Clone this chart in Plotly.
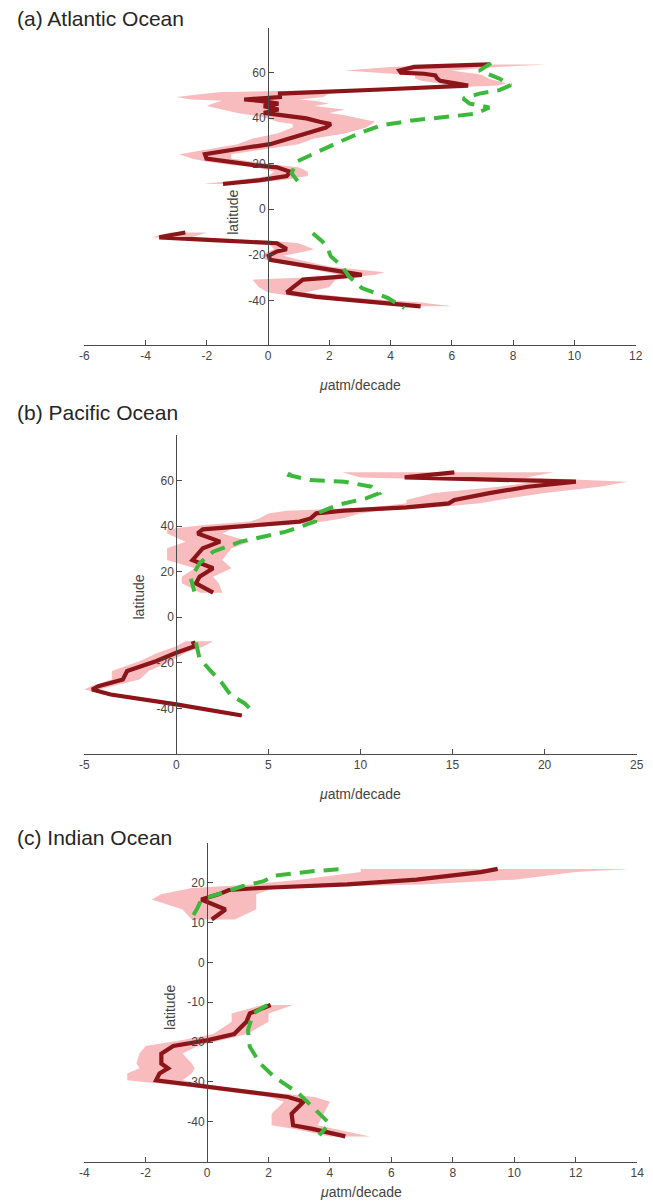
import plotly.graph_objects as go

# ---------------- data ----------------
# (a) Atlantic
a_n_lat = [63.6, 62.5, 60.9, 60.0, 59.5, 58.8, 57.4, 56.4, 55.2, 54.3, 52.6, 51.5, 50.8, 49.3, 48.2, 47.6, 46.4,
           45.3, 43.8, 42.3, 41.3, 39.9, 38.4, 37.4, 35.9, 33.3, 31.1, 28.6, 26.7, 24.2, 22.3, 20.9, 19.4, 18.4,
           16.5, 14.6, 12.8, 11.1]
a_n_mean = [7.22, 4.77, 4.29, 4.34, 5.09, 5.46, 5.52, 5.62, 6.16, 6.53, 3.7, 1.57, 0.39, 0.39, -0.78, -0.25, 0.34,
            -0.14, 0.34, -0.14, 0.39, 1.25, 1.68, 2.05, 1.89, 1.25, 0.72, 0.07, -0.89, -2.06, -2.01, -1.31, -0.46,
            0.29, 0.72, 0.61, -0.25, -1.47]
a_n_low = [6.0, 4.0, 2.5, 3.5, 4.3, 4.8, 4.8, 5.0, 5.6, 5.8, 3.0, -1.5, -2.0, -3.0, -2.5, -1.5, -1.8,
           -2.0, -1.5, -1.0, -0.5, 0.0, 0.3, 0.8, 0.8, 0.3, -0.5, -1.0, -1.8, -2.9, -2.5, -2.0, -1.2, -0.4,
           0.2, 0.0, -1.0, -2.1]
a_n_high = [9.1, 7.5, 6.0, 6.5, 6.8, 7.0, 7.2, 7.5, 7.8, 7.5, 4.5, 2.5, 2.0, 1.8, 1.0, 1.5, 2.0,
            1.5, 2.5, 2.0, 2.5, 3.0, 3.5, 3.4, 3.2, 2.5, 1.5, 1.0, 0.0, -1.2, -1.2, -0.5, 0.3, 1.0,
            1.3, 1.3, 0.5, -0.8]
a_s_lat = [-10.2, -12.3, -13.7, -14.9, -17.5, -18.5, -20.4, -22.2, -25.1, -27.7, -28.8, -29.8, -30.9, -34.2,
           -36.5, -38.5, -40.9, -42.6]
a_s_mean = [-2.7, -3.55, -1.63, 0.29, 0.61, 0.29, 0.02, 0.07, 1.36, 2.64, 3.06, 2.2, 1.14, 0.82, 0.61, 1.57, 3.7,
            4.98]
a_s_low = [-3.2, -3.8, -2.0, 0.0, 0.2, 0.0, -0.2, -0.1, 1.0, 2.0, 2.3, 1.5, -0.5, -0.3, 0.0, 1.0, 3.0, 4.5]
a_s_high = [-2.0, -2.5, 0.0, 1.0, 1.5, 1.2, 0.5, 1.0, 2.0, 3.8, 3.5, 2.8, 2.2, 2.0, 1.2, 2.5, 5.0, 6.0]
a_gn_lat = [64.2, 60.9, 57.4, 54.5, 52.3, 50.8, 48.6, 46.4, 44.7, 42.0, 40.6, 39.1, 36.9, 33.3, 28.2, 23.8, 20.9,
            15.8, 12.1, 10.7]
a_gn_val = [7.28, 6.9, 7.55, 7.92, 7.55, 6.9, 6.37, 6.58, 7.22, 6.8, 5.84, 4.77, 3.7, 2.96, 2.1, 1.36, 0.93,
            0.77, 0.98, 1.2]
a_gs_lat = [-10.5, -14.2, -17.1, -20.7, -25.1, -29.5, -34.6, -39.0, -43.4]
a_gs_val = [1.46, 1.78, 1.94, 2.05, 2.42, 2.64, 3.06, 3.92, 4.45]

# (b) Pacific
b_n_lat = [63.6, 61.4, 59.5, 57.3, 54.5, 51.5, 50.0, 48.2, 46.8, 45.6, 43.4, 42.0, 40.5, 38.6, 36.8, 33.2, 30.3,
           25.1, 21.5, 17.8, 14.9, 10.8]
b_n_mean = [15.1, 12.4, 21.7, 19.1, 17.0, 15.1, 14.8, 12.5, 9.1, 7.6, 7.3, 6.7, 4.4, 1.44, 1.16, 2.38, 1.44,
            0.88, 2.0, 1.26, 1.07, 2.0]
b_n_low = [9.0, 10.0, 19.5, 17.5, 14.0, 12.5, 12.5, 10.5, 6.0, 5.0, 4.5, 4.0, 1.5, -0.5, -0.5, 0.5, -0.5,
           -0.5, 1.0, 0.3, 0.3, 1.3]
b_n_high = [20.5, 19.0, 24.5, 23.0, 20.0, 17.5, 16.5, 14.0, 11.0, 10.0, 9.0, 8.0, 6.0, 3.0, 2.5, 4.0, 3.0,
            2.5, 3.0, 2.0, 2.3, 2.5]
b_s_lat = [-10.5, -12.7, -15.6, -19.3, -23.6, -27.3, -30.2, -31.7, -33.9, -38.2, -43.1]
b_s_mean = [0.89, 1.0, 0.0, -1.11, -2.67, -2.9, -4.23, -4.57, -3.56, 0.0, 3.56]
b_s_low = [0.5, 0.0, -1.0, -2.0, -3.5, -3.5, -4.6, -5.0, -3.8, -0.2, 3.4]
b_s_high = [2.0, 1.5, 0.5, -0.3, -1.5, -2.0, -3.5, -4.2, -3.3, 0.2, 3.8]
b_gn_lat = [63.5, 62.4, 60.2, 59.5, 57.3, 54.4, 52.2, 49.3, 45.6, 42.0, 37.6, 33.2, 28.8, 23.7, 17.1, 11.3]
b_gn_val = [6.2, 6.13, 7.26, 9.14, 10.6, 11.0, 10.3, 8.76, 7.64, 7.54, 5.95, 3.5, 2.0, 1.26, 0.79, 0.98]
b_gs_lat = [-11.1, -18.0, -23.1, -28.9, -34.1, -37.7, -42.1]
b_gs_val = [1.07, 1.26, 1.82, 2.48, 2.95, 3.7, 4.26]

# (c) Indian
c_n_lat = [23.5, 22.7, 20.8, 19.6, 18.7, 18.2, 17.1, 15.8, 13.3, 10.8]
c_n_mean = [9.46, 8.91, 6.82, 4.56, 1.73, 0.71, 0.37, -0.19, 0.6, 0.15]
c_n_low = [5.0, 5.0, 3.0, 1.5, -0.5, -0.8, -1.5, -1.8, -0.8, -0.5]
c_n_high = [13.7, 12.0, 10.0, 7.0, 2.0, 2.0, 1.6, 1.6, 1.6, 0.9]
c_s_lat = [-10.7, -12.8, -14.9, -18.0, -19.5, -21.0, -22.9, -25.4, -26.6, -27.9, -29.6, -31.3, -33.8, -35.0,
           -38.0, -40.9, -41.8, -43.7]
c_s_mean = [2.07, 1.39, 1.28, 0.88, 0.03, -1.1, -1.49, -1.49, -1.27, -1.55, -1.66, 0.03, 2.64, 3.14, 2.75, 2.8,
            3.43, 4.5]
c_s_low = [1.8, 0.8, 0.8, 0.2, -0.8, -2.0, -2.2, -2.3, -2.2, -2.6, -2.6, -0.5, 2.0, 2.5, 2.1, 2.1, 2.8, 4.0]
c_s_high = [2.8, 2.0, 2.0, 1.3, 0.5, -0.3, -0.8, -0.5, -0.4, -0.5, -0.8, 0.5, 3.5, 4.0, 3.8, 3.6, 4.2, 5.3]
c_gn_lat = [23.4, 22.9, 21.8, 20.4, 19.2, 17.5, 15.8, 13.7, 10.8]
c_gn_val = [4.28, 3.43, 2.18, 1.84, 1.17, 0.49, -0.19, -0.31, -0.53]
c_gs_lat = [-10.7, -12.8, -17.0, -21.2, -25.4, -28.7, -32.9, -37.1, -40.5, -43.4]
c_gs_val = [1.96, 1.5, 1.33, 1.39, 1.73, 2.18, 2.98, 3.54, 3.99, 3.65]

titles = ["(a) Atlantic Ocean", "(b) Pacific Ocean", "(c) Indian Ocean"]
x_ranges = [[-6, 12], [-5, 25], [-4, 14]]
x_ticks = [[-6, -4, -2, 0, 2, 4, 6, 8, 10, 12], [-5, 0, 5, 10, 15, 20, 25], [-4, -2, 0, 2, 4, 6, 8, 10, 12, 14]]
y_ranges = [[-59.6, 79.6], [-60, 80], [-50, 30]]
y_ticks = [[-40, -20, 0, 20, 40, 60], [-40, -20, 0, 20, 40, 60], [-40, -30, -20, -10, 0, 10, 20]]
x_label = "<i>μ</i>atm/decade"
y_label = "latitude"

# ---------------- layout geometry (pixels) ----------------
W, H = 653, 1203
boxes = [  # left, right, top, bottom
    (80.7, 642.5, 28, 345),
    (80.7, 643.5, 435, 754),
    (80.7, 644.0, 843, 1161.5),
]
ylab_pos = [(232, 212), (136, 597), (168, 1007)]
xlab_y = [385, 794, 1192]
title_y = [19, 413, 837]

RED = "#8c1519"
PINK = "#f8bcbf"
GREEN = "#3cb93c"
AX = "#4a4a4a"
FONT = "Liberation Sans, Arial, Helvetica, sans-serif"

panels = [
    (a_n_lat, a_n_mean, a_n_low, a_n_high, a_s_lat, a_s_mean, a_s_low, a_s_high, a_gn_lat, a_gn_val, a_gs_lat, a_gs_val),
    (b_n_lat, b_n_mean, b_n_low, b_n_high, b_s_lat, b_s_mean, b_s_low, b_s_high, b_gn_lat, b_gn_val, b_gs_lat, b_gs_val),
    (c_n_lat, c_n_mean, c_n_low, c_n_high, c_s_lat, c_s_mean, c_s_low, c_s_high, c_gn_lat, c_gn_val, c_gs_lat, c_gs_val),
]

fig = go.Figure()
layout = dict(width=W, height=H, margin=dict(l=0, r=0, t=0, b=0), paper_bgcolor="white", plot_bgcolor="white",
              showlegend=False, font=dict(family=FONT, color="#333333"))
annotations = []


def fmt(v):
    return ("-" if v < 0 else "") + str(abs(v))


for i, p in enumerate(panels):
    nl, nm, nlo, nhi, sl, sm, slo, shi, gnl, gnv, gsl, gsv = p
    xa = "x" if i == 0 else f"x{i+1}"
    ya = "y" if i == 0 else f"y{i+1}"
    for lat, lo, hi in ((nl, nlo, nhi), (sl, slo, shi)):
        fig.add_trace(go.Scatter(x=list(lo) + list(hi)[::-1], y=list(lat) + list(lat)[::-1], fill="toself",
                                 fillcolor=PINK, line=dict(width=0), mode="lines", hoverinfo="skip",
                                 xaxis=xa, yaxis=ya))
    for lat, m in ((nl, nm), (sl, sm)):
        fig.add_trace(go.Scatter(x=m, y=lat, mode="lines", line=dict(color=RED, width=4.2),
                                 xaxis=xa, yaxis=ya))
    for lat, v in ((gnl, gnv), (gsl, gsv)):
        fig.add_trace(go.Scatter(x=v, y=lat, mode="lines", line=dict(color=GREEN, width=4, dash="15px,9px"),
                                 xaxis=xa, yaxis=ya))

    l, r, t, b = boxes[i]
    xd = [l / W, r / W]
    yd = [1 - b / H, 1 - t / H]
    xr = x_ranges[i]
    yr = y_ranges[i]
    ypos = xd[0] + (0 - xr[0]) / (xr[1] - xr[0]) * (xd[1] - xd[0])
    tv = list(y_ticks[i]) + [yr[1]]
    tt = [fmt(v) for v in y_ticks[i]] + [""]
    xkey = "xaxis" if i == 0 else f"xaxis{i+1}"
    ykey = "yaxis" if i == 0 else f"yaxis{i+1}"
    layout[xkey] = dict(domain=xd, range=xr, anchor=ya, tickmode="array", tickvals=x_ticks[i],
                        ticktext=[fmt(v) for v in x_ticks[i]], showgrid=False,
                        zeroline=False, showline=True, linecolor=AX, linewidth=1, ticks="inside", ticklen=5,
                        tickcolor=AX, tickfont=dict(size=12, color="#444444", family=FONT))
    layout[ykey] = dict(domain=yd, range=yr, anchor="free", position=ypos,
                        tickmode="array", tickvals=tv, ticktext=tt, showgrid=False, zeroline=False,
                        showline=True, linecolor=AX, linewidth=1, ticks="inside", ticklen=5, tickcolor=AX,
                        tickfont=dict(size=12, color="#444444", family=FONT))
    annotations.append(dict(text=titles[i], x=10 / W, y=1 - title_y[i] / H, xref="paper", yref="paper",
                            xanchor="left", yanchor="middle", showarrow=False,
                            font=dict(size=21, color="#262626", family=FONT)))
    annotations.append(dict(text=y_label, x=ylab_pos[i][0] / W, y=1 - ylab_pos[i][1] / H, xref="paper",
                            yref="paper", xanchor="center", yanchor="middle", textangle=-90, showarrow=False,
                            font=dict(size=14, color="#444444", family=FONT)))
    annotations.append(dict(text=x_label, x=(l + r) / 2 / W, y=1 - xlab_y[i] / H, xref="paper", yref="paper",
                            xanchor="center", yanchor="middle", showarrow=False,
                            font=dict(size=14, color="#444444", family=FONT)))

layout["annotations"] = annotations
fig.update_layout(**layout)
fig.write_html("out.html")
